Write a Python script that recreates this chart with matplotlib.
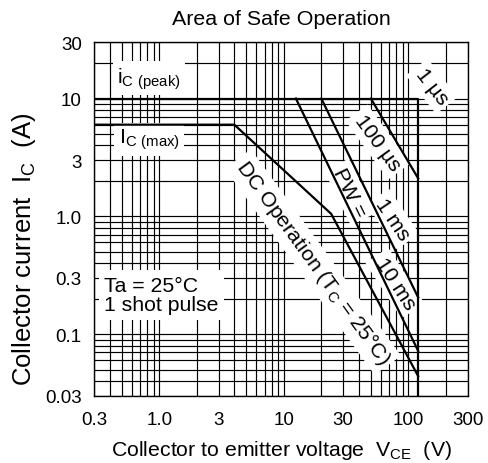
import matplotlib
matplotlib.use("Agg")
import matplotlib.pyplot as plt
from matplotlib.ticker import LogLocator, NullFormatter, FixedLocator, FixedFormatter

plt.rcParams['font.family'] = ['Liberation Sans', 'DejaVu Sans']
plt.rcParams['mathtext.fontset'] = 'custom'
plt.rcParams['mathtext.rm'] = 'Liberation Sans'

#--- data (V_CE [V], I_C [A]) -------------------------------------------------
v_peak = [0.3, 120, 120]
i_peak = [10, 10, 0.03]

v_dc = [0.3, 4, 24, 120]
i_dc = [6, 6, 1.05, 0.044]

v_100us = [50, 120]
i_100us = [10, 2.1]

v_1ms = [20, 120]
i_1ms = [10, 0.205]

v_10ms = [12.5, 120]
i_10ms = [10, 0.072]

x_ticks = [0.3, 1.0, 3, 10, 30, 100, 300]
x_ticklabels = ["0.3", "1.0", "3", "10", "30", "100", "300"]
y_ticks = [0.03, 0.1, 0.3, 1.0, 3, 10, 30]
y_ticklabels = ["0.03", "0.1", "0.3", "1.0", "3", "10", "30"]

#--- figure -------------------------------------------------------------------
fig = plt.figure(figsize=(4.88, 4.64), dpi=100)
ax = fig.add_axes((0.1932, 0.1450, 0.7652, 0.7616))
ax.set_xscale("log")
ax.set_yscale("log")
ax.set_xlim(0.3, 300)
ax.set_ylim(0.03, 30)

ax.xaxis.set_major_locator(FixedLocator(x_ticks))
ax.xaxis.set_major_formatter(FixedFormatter(x_ticklabels))
ax.yaxis.set_major_locator(FixedLocator(y_ticks))
ax.yaxis.set_major_formatter(FixedFormatter(y_ticklabels))
ax.xaxis.set_minor_locator(LogLocator(base=10, subs=range(2, 10), numticks=20))
ax.yaxis.set_minor_locator(LogLocator(base=10, subs=range(2, 10), numticks=20))
ax.xaxis.set_minor_formatter(NullFormatter())
ax.yaxis.set_minor_formatter(NullFormatter())
ax.tick_params(which="both", length=0)
ax.tick_params(axis="x", pad=11, labelsize=13.5)
ax.tick_params(axis="y", pad=9, labelsize=13.5)

ax.set_axisbelow(True)
ax.grid(True, which="both", color="black", linewidth=0.85)
for s in ax.spines.values():
    s.set_linewidth(1.0)

lw = 1.6
ax.plot(v_peak, i_peak, color="black", lw=lw, zorder=3)
ax.plot(v_dc, i_dc, color="black", lw=lw, zorder=3)
ax.plot(v_100us, i_100us, color="black", lw=lw, zorder=3)
ax.plot(v_1ms, i_1ms, color="black", lw=lw, zorder=3)
ax.plot(v_10ms, i_10ms, color="black", lw=lw, zorder=3)

box = dict(boxstyle="square,pad=0.2", fc="white", ec="none")
fs = 15.3
ax.text(0.825, 14.9, r"$\mathregular{i_{C\ (peak)}}$", fontsize=fs, ha="center", va="center", bbox=box, zorder=2)
ax.text(0.825, 4.52, r"$\mathregular{I_{C\ (max)}}$", fontsize=fs, ha="center", va="center", bbox=box, zorder=2)
ax.text(0.36, 0.215, "Ta = 25°C\n1 shot pulse", fontsize=fs, ha="left", va="center",
        linespacing=1.05, bbox=dict(boxstyle="square,pad=0.25", fc="white", ec="none"), zorder=2)

ax.text(154.5, 12.7, "1 µs", fontsize=fs, rotation=-52, ha="center", va="center", bbox=box, zorder=2)
ax.text(57.0, 4.27, "100 µs", fontsize=fs, rotation=-54, ha="center", va="center", bbox=box, zorder=2)
ax.text(75.2, 0.948, "1 ms", fontsize=fs, rotation=-56, ha="center", va="center", bbox=box, zorder=2)
ax.text(33.9, 1.61, "PW =", fontsize=fs, rotation=-64, ha="center", va="center", bbox=box, zorder=2)
ax.text(78.0, 0.271, "10 ms", fontsize=fs, rotation=-57, ha="center", va="center", bbox=box, zorder=2)
ax.text(17.1, 0.409, r"DC Operation ($\mathregular{T_C}$ = 25°C)", fontsize=fs, rotation=-54,
        ha="center", va="center", bbox=box, zorder=2)

fig.text(281 / 488, 1 - 25 / 464, "Area of Safe Operation", fontsize=15.4, ha="center", va="baseline")
fig.text(281.7 / 488, 1 - 455.7 / 464, r"Collector to emitter voltage  $\mathregular{V_{CE}}$  (V)",
         fontsize=15.3, ha="center", va="baseline")
fig.text(24 / 488, 1 - 249 / 464, r"Collector current  $\mathregular{I_C}$  (A)",
         fontsize=18.5, rotation=90, ha="center", va="center")

fig.savefig("out.png", dpi=100)
